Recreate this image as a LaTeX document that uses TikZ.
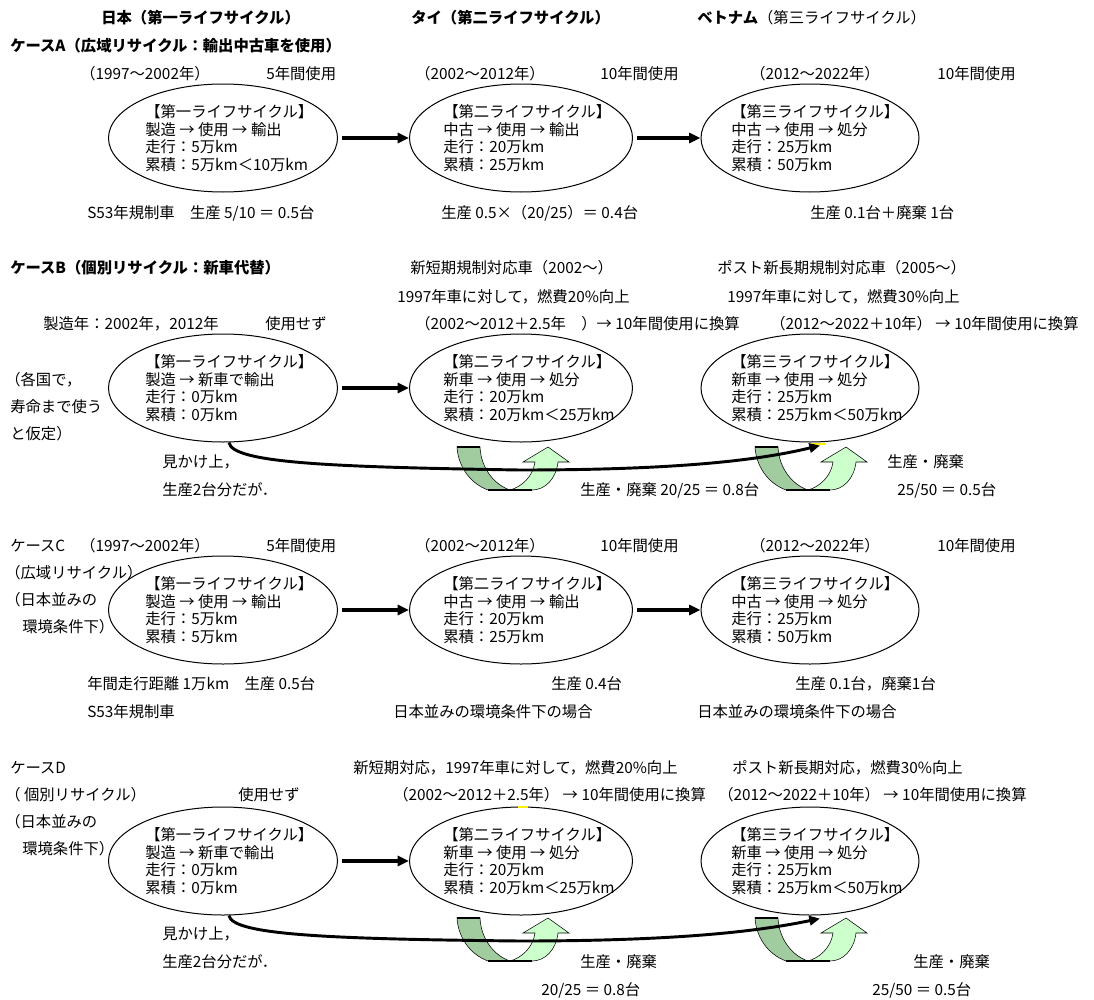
\documentclass[tikz,border=0pt]{standalone}
\usepackage{fontspec}
\setmainfont{Noto Sans CJK JP}
\usetikzlibrary{shapes.geometric,arrows.meta,calc}
\newcommand\myfs{\fontsize{11.5pt}{13.1pt}\selectfont}
\definecolor{dkgreen}{RGB}{160,204,160}
\definecolor{ltgreen}{RGB}{204,255,204}
\tikzset{
  pics/uturn/.style={code={
    \filldraw[fill=dkgreen,draw=black,line width=0.4pt]
      (0,0) -- (23,0) .. controls (24,22) and (38,38) .. (53,43) -- (31,43)
      .. controls (12,36) and (1,18) .. (0,0) -- cycle;
    \filldraw[fill=ltgreen,draw=black,line width=0.4pt]
      (53,43) .. controls (64,40) and (76,30) .. (78,15) -- (66,15) -- (91,0) -- (112,15) -- (101,15)
      .. controls (99,32) and (88,43) .. (75,43) -- cycle;
    \draw[line width=1.6pt] (0,0) -- (23,0);
    \draw[line width=1.6pt] (31,43) -- (75,43);
  }}
}
\begin{document}
\begin{tikzpicture}[x=0.75pt,y=-0.75pt,
  txt/.style={anchor=west,inner sep=0pt,font=\myfs},
  hd/.style={anchor=west,inner sep=0pt,font=\myfs\bfseries},
  lc/.style={ellipse,draw,line width=0.75pt,minimum height=81pt,inner sep=0pt},
  wa/.style={lc,minimum width=171.75pt},
  wb/.style={lc,minimum width=167.25pt},
  wc/.style={lc,minimum width=163.5pt},
  intext/.style={anchor=west,inner sep=0pt,align=left,font=\myfs},
  flow/.style={line width=2.3pt,-{Triangle[length=8.5pt,width=7.5pt]},shorten <=3pt},
  curv/.style={line width=2.2pt,-{Triangle[length=8pt,width=7pt]}}
]
\fill[white] (0,0) rectangle (1094,999);
\useasboundingbox (0,0) rectangle (1094,999);

% ---------- headers ----------
\node[hd] (hJ) at (101,18) {日本（第一ライフサイクル）};
\node[hd] (hT) at (411,18) {タイ（第二ライフサイクル）};
\node[txt] (hV) at (697,18) {\textbf{ベトナム}（第三ライフサイクル）};

% ---------- case A ----------
\node[hd] (cA) at (10,46) {ケースA（広域リサイクル：輸出中古車を使用）};
\node[txt] (yA1) at (80,74) {（1997〜2002年）};
\node[txt] (uA1) at (266,74) {5年間使用};
\node[txt] (yA2) at (415,74) {（2002〜2012年）};
\node[txt] (uA2) at (600,74) {10年間使用};
\node[txt] (yA3) at (750,74) {（2012〜2022年）};
\node[txt] (uA3) at (937,74) {10年間使用};
\node[wa] (eA1) at (223,138) {};
\node[wb] (eA2) at (521,138) {};
\node[wc] (eA3) at (810,138) {};
\node[intext] (iA1) at (145,138) {【第一ライフサイクル】\\製造 → 使用 → 輸出\\走行：5万km\\累積：5万km＜10万km};
\node[intext] (iA2) at (443,138) {【第二ライフサイクル】\\中古 → 使用 → 輸出\\走行：20万km\\累積：25万km};
\node[intext] (iA3) at (731,138) {【第三ライフサイクル】\\中古 → 使用 → 処分\\走行：25万km\\累積：50万km};
\draw[flow] (eA1) -- (eA2);
\draw[flow] (eA2) -- (eA3);
\node[txt] (bA1) at (87,213) {S53年規制車　生産 5/10 ＝ 0.5台};
\node[txt] (bA2) at (441,213) {生産 0.5×（20/25）＝ 0.4台};
\node[txt] (bA3) at (810,213) {生産 0.1台＋廃棄 1台};

% ---------- case B ----------
\node[hd] (cB) at (10,268) {ケースB（個別リサイクル：新車代替）};
\node[txt] (nB2) at (410,268) {新短期規制対応車（2002〜）};
\node[txt] (nB3) at (717,268) {ポスト新長期規制対応車（2005〜）};
\node[txt] (fB2) at (397,297) {1997年車に対して，燃費20\%向上};
\node[txt] (fB3) at (727,297) {1997年車に対して，燃費30\%向上};
\node[txt] (mB1) at (43,324) {製造年：2002年，2012年};
\node[txt] (uB1) at (265,324) {使用せず};
\node[txt] (yB2) at (415,324) {（2002〜2012＋2.5年　）→ 10年間使用に換算};
\node[txt] (yB3) at (770,324) {（2012〜2022＋10年） → 10年間使用に換算};
\node[txt] (lB1) at (5,380) {（各国で，};
\node[txt] (lB2) at (10,407) {寿命まで使う};
\node[txt] (lB3) at (10,434) {と仮定）};
\node[wa] (eB1) at (223,388) {};
\node[wb] (eB2) at (521,388) {};
\node[wc] (eB3) at (810,388) {};
\node[intext] (iB1) at (145,388) {【第一ライフサイクル】\\製造 → 新車で輸出\\走行：0万km\\累積：0万km};
\node[intext] (iB2) at (443,388) {【第二ライフサイクル】\\新車 → 使用 → 処分\\走行：20万km\\累積：20万km＜25万km};
\node[intext] (iB3) at (731,388) {【第三ライフサイクル】\\新車 → 使用 → 処分\\走行：25万km\\累積：25万km＜50万km};
\draw[flow] (eB1) -- (eB2);
\pic (gB2) at (457,447) {uturn};
\pic (gB3) at (755,447) {uturn};
\draw[yellow,line width=1.5pt] (812,444) -- (826,444);
\draw[curv] ($(eB1.south)+(6,0)$) .. controls (232,463) and (330,467) .. (520,470)
  .. controls (680,470) and (760,460) .. ($(eB3.south)+(10,3)$);
\node[txt] (kB1) at (162,462) {見かけ上，};
\node[txt] (kB2) at (162,490) {生産2台分だが．};
\node[txt] (pB2) at (580,490) {生産・廃棄 20/25 ＝ 0.8台};
\node[txt] (pB3) at (887,462) {生産・廃棄};
\node[txt] (qB3) at (897,490) {25/50 ＝ 0.5台};

% ---------- case C ----------
\node[txt] (cC) at (10,546) {ケースC};
\node[txt] (yC1) at (80,546) {（1997〜2002年）};
\node[txt] (uC1) at (266,546) {5年間使用};
\node[txt] (yC2) at (415,546) {（2002〜2012年）};
\node[txt] (uC2) at (600,546) {10年間使用};
\node[txt] (yC3) at (750,546) {（2012〜2022年）};
\node[txt] (uC3) at (937,546) {10年間使用};
\node[txt] (lC1) at (5,573) {（広域リサイクル）};
\node[txt] (lC2) at (5,600) {（日本並みの};
\node[txt] (lC3) at (22,627) {環境条件下）};
\node[wa] (eC1) at (223,610) {};
\node[wb] (eC2) at (521,610) {};
\node[wc] (eC3) at (810,610) {};
\node[intext] (iC1) at (145,610) {【第一ライフサイクル】\\製造 → 使用 → 輸出\\走行：5万km\\累積：5万km};
\node[intext] (iC2) at (443,610) {【第二ライフサイクル】\\中古 → 使用 → 輸出\\走行：20万km\\累積：25万km};
\node[intext] (iC3) at (731,610) {【第三ライフサイクル】\\中古 → 使用 → 処分\\走行：25万km\\累積：50万km};
\draw[flow] (eC1) -- (eC2);
\draw[flow] (eC2) -- (eC3);
\node[txt] (bC1) at (87,684) {年間走行距離 1万km　生産 0.5台};
\node[txt] (sC1) at (87,712) {S53年規制車};
\node[txt] (bC2) at (551,684) {生産 0.4台};
\node[txt] (sC2) at (393,712) {日本並みの環境条件下の場合};
\node[txt] (bC3) at (795,684) {生産 0.1台，廃棄1台};
\node[txt] (sC3) at (697,712) {日本並みの環境条件下の場合};

% ---------- case D ----------
\node[txt] (cD) at (10,768) {ケースD};
\node[txt] (nD2) at (353,768) {新短期対応，1997年車に対して，燃費20\%向上};
\node[txt] (nD3) at (732,768) {ポスト新長期対応，燃費30\%向上};
\node[txt] (lD1) at (5,795) {（ 個別リサイクル）};
\node[txt] (uD1) at (238,795) {使用せず};
\node[txt] (yD2) at (393,795) {（2002〜2012＋2.5年） → 10年間使用に換算};
\node[txt] (yD3) at (718,795) {（2012〜2022＋10年） → 10年間使用に換算};
\node[txt] (lD2) at (5,822) {（日本並みの};
\node[txt] (lD3) at (22,849) {環境条件下）};
\node[wa] (eD1) at (223,861) {};
\node[wb] (eD2) at (521,861) {};
\node[wc] (eD3) at (810,861) {};
\draw[yellow,line width=1.5pt] (518,807) -- (528,807);
\node[intext] (iD1) at (145,861) {【第一ライフサイクル】\\製造 → 新車で輸出\\走行：0万km\\累積：0万km};
\node[intext] (iD2) at (443,861) {【第二ライフサイクル】\\新車 → 使用 → 処分\\走行：20万km\\累積：20万km＜25万km};
\node[intext] (iD3) at (731,861) {【第三ライフサイクル】\\新車 → 使用 → 処分\\走行：25万km\\累積：25万km＜50万km};
\draw[flow] (eD1) -- (eD2);
\pic (gD2) at (457,918) {uturn};
\pic (gD3) at (755,918) {uturn};
\draw[curv] ($(eD1.south)+(6,0)$) .. controls (232,935) and (330,939) .. (520,941)
  .. controls (680,941) and (760,931) .. ($(eD3.south)+(10,3)$);
\node[txt] (kD1) at (162,934) {見かけ上，};
\node[txt] (kD2) at (162,962) {生産2台分だが．};
\node[txt] (pD2) at (580,962) {生産・廃棄};
\node[txt] (qD2) at (541,990) {20/25 ＝ 0.8台};
\node[txt] (pD3) at (913,962) {生産・廃棄};
\node[txt] (qD3) at (872,990) {25/50 ＝ 0.5台};
\end{tikzpicture}
\end{document}
